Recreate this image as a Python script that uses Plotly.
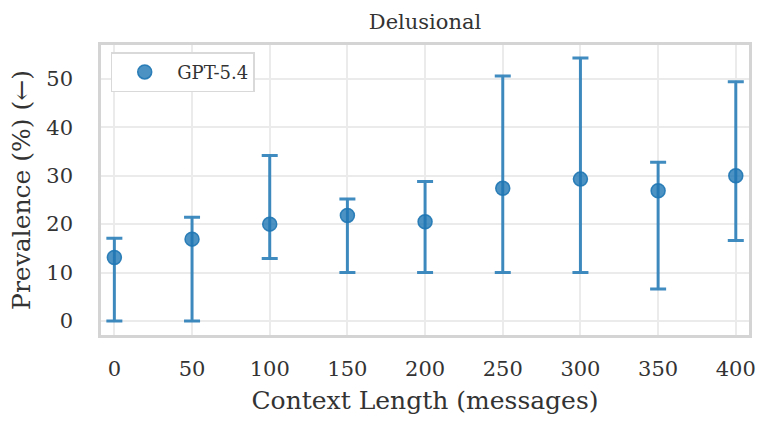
import plotly.graph_objects as go

# values
context_len = [0, 50, 100, 150, 200, 250, 300, 350, 400]
prevalence = [13.1, 16.9, 20.0, 21.8, 20.5, 27.4, 29.3, 26.9, 30.0]
upper = [17.1, 21.4, 34.2, 25.2, 28.8, 50.6, 54.3, 32.8, 49.4]
lower = [0.0, 0.0, 12.9, 10.0, 10.0, 10.0, 10.0, 6.6, 16.6]

x_ticks = [0, 50, 100, 150, 200, 250, 300, 350, 400]
y_ticks = [0, 10, 20, 30, 40, 50]

err_plus = [u - p for u, p in zip(upper, prevalence)]
err_minus = [p - l for p, l in zip(prevalence, lower)]

blue = "rgba(31,119,180,0.85)"
font_name = "DejaVu Serif"
txt = "#333333"

fig = go.Figure()
fig.add_trace(go.Scatter(
    x=context_len,
    y=prevalence,
    mode="markers",
    name="GPT-5.4",
    marker=dict(size=14, color="rgba(31,119,180,0.8)",
                line=dict(width=1.5, color="rgba(31,119,180,0.9)")),
    error_y=dict(type="data", symmetric=False, array=err_plus,
                 arrayminus=err_minus, color=blue, thickness=3, width=8),
))

fig.update_layout(
    width=768,
    height=431,
    margin=dict(l=101, r=19, t=45, b=96),
    paper_bgcolor="white",
    plot_bgcolor="white",
    font=dict(family=font_name, color=txt),
    title=dict(text="Delusional", x=0.5, xref="paper", xanchor="center",
               y=0.95, yref="container", yanchor="middle",
               font=dict(size=21, family=font_name, color=txt)),
    showlegend=True,
    legend=dict(x=0.015, y=0.975, xanchor="left", yanchor="top",
                itemwidth=55,
                bgcolor="white", bordercolor="#d9d9d9", borderwidth=1.5,
                font=dict(size=18, family=font_name, color=txt)),
)

fig.update_xaxes(
    range=[-8.6, 408.5],
    tickvals=x_ticks,
    ticks="",
    ticklabelstandoff=13,
    tickfont=dict(size=21, family=font_name, color=txt),
    title=dict(text="Context Length (messages)", standoff=12,
               font=dict(size=25, family=font_name, color=txt)),
    showgrid=True, gridcolor="#ebebeb", gridwidth=1.5,
    zeroline=False,
    showline=True, linecolor="#d4d4d4", linewidth=2.5, mirror=True,
)
fig.update_yaxes(
    range=[-2.9, 57.0],
    tickvals=y_ticks,
    ticks="",
    ticklabelstandoff=21,
    tickfont=dict(size=21, family=font_name, color=txt),
    title=dict(text="Prevalence (%) (\u2190)", standoff=9,
               font=dict(size=25, family=font_name, color=txt)),
    showgrid=True, gridcolor="#ebebeb", gridwidth=1.5,
    zeroline=False,
    showline=True, linecolor="#d4d4d4", linewidth=2.5, mirror=True,
)

# the page has a default 8px body margin; drop it so the figure sits at 0,0
fig.write_html("out.html", config={"displayModeBar": False},
               post_script="document.body.style.margin='0';")
